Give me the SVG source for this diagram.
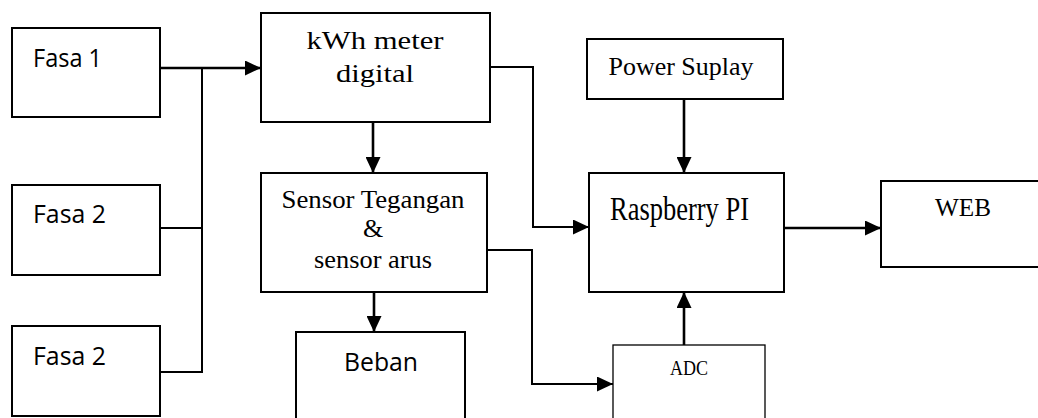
<svg xmlns="http://www.w3.org/2000/svg" width="1038" height="418" viewBox="0 0 1038 418">
<style>
.box{fill:#fff;stroke:#000;stroke-width:2}
.thin{fill:#fff;stroke:#000;stroke-width:1.3}
.conn{fill:none;stroke:#000;stroke-width:2.6}
.conn2{fill:none;stroke:#000;stroke-width:2}
.serif{font-family:"Liberation Serif","Times New Roman",serif;fill:#000}
.sans{font-family:"Open Sans","Noto Sans",sans-serif;fill:#000}
</style>
<defs>
<marker id="arr" markerUnits="userSpaceOnUse" markerWidth="16" markerHeight="15" refX="16" refY="7.5" orient="auto" viewBox="0 0 16 15">
<path d="M0,0 L16,7.5 L0,15 z" fill="#000"/>
</marker>
</defs>
<rect width="1038" height="418" fill="#fff"/>
<g id="connectors">
<line class="conn" x1="160" y1="68" x2="261" y2="68" marker-end="url(#arr)"/>
<line class="conn2" x1="202" y1="68" x2="202" y2="373"/>
<line class="conn2" x1="160" y1="228" x2="202" y2="228"/>
<line class="conn2" x1="160" y1="372" x2="202" y2="372"/>
<path class="conn2" d="M486,67 H533 V227 H589" marker-end="url(#arr)"/>
<line class="conn" x1="373" y1="122" x2="373" y2="173" marker-end="url(#arr)"/>
<line class="conn" x1="374" y1="292" x2="374" y2="332" marker-end="url(#arr)"/>
<path class="conn2" d="M487,250 H532 V384 H613" marker-end="url(#arr)"/>
<line class="conn" x1="684" y1="99" x2="684" y2="173" marker-end="url(#arr)"/>
<line class="conn" x1="684" y1="345" x2="684" y2="292" marker-end="url(#arr)"/>
<line class="conn" x1="784" y1="228" x2="881" y2="228" marker-end="url(#arr)"/>
</g>
<g id="fasa1">
<rect class="box" x="12" y="28" width="148" height="89"/>
<text class="sans" x="33" y="67" font-size="25" textLength="69" lengthAdjust="spacingAndGlyphs">Fasa 1</text>
</g>
<g id="fasa2a">
<rect class="box" x="12" y="185" width="148" height="90"/>
<text class="sans" x="33" y="223" font-size="25" textLength="73" lengthAdjust="spacingAndGlyphs">Fasa 2</text>
</g>
<g id="fasa2b">
<rect class="box" x="12" y="326" width="148" height="90"/>
<text class="sans" x="33" y="365" font-size="25" textLength="73" lengthAdjust="spacingAndGlyphs">Fasa 2</text>
</g>
<g id="kwh">
<rect class="box" x="261" y="13" width="229" height="109"/>
<text class="serif" x="375" y="49" font-size="26" text-anchor="middle" textLength="137" lengthAdjust="spacingAndGlyphs">kWh meter</text>
<text class="serif" x="375" y="82" font-size="26" text-anchor="middle" textLength="78" lengthAdjust="spacingAndGlyphs">digital</text>
</g>
<g id="sensor">
<rect class="box" x="261" y="173" width="226" height="119"/>
<text class="serif" x="373" y="208" font-size="26" text-anchor="middle" textLength="183" lengthAdjust="spacingAndGlyphs">Sensor Tegangan</text>
<text class="serif" x="373" y="237" font-size="26" text-anchor="middle">&amp;</text>
<text class="serif" x="373" y="268" font-size="26" text-anchor="middle" textLength="118" lengthAdjust="spacingAndGlyphs">sensor arus</text>
</g>
<g id="beban">
<rect class="box" x="296" y="332" width="169" height="100"/>
<text class="sans" x="381" y="371" font-size="25" text-anchor="middle" textLength="74" lengthAdjust="spacingAndGlyphs">Beban</text>
</g>
<g id="power">
<rect class="box" x="587" y="39" width="196" height="60"/>
<text class="serif" x="681" y="75" font-size="26" text-anchor="middle" textLength="145" lengthAdjust="spacingAndGlyphs">Power Suplay</text>
</g>
<g id="raspberry">
<rect class="box" x="589" y="173" width="195" height="119"/>
<text class="serif" x="679.5" y="220" font-size="33" text-anchor="middle" textLength="139" lengthAdjust="spacingAndGlyphs">Raspberry PI</text>
</g>
<g id="web">
<rect class="box" x="881" y="181" width="170" height="86"/>
<text class="serif" x="963" y="216" font-size="25" text-anchor="middle" textLength="56" lengthAdjust="spacingAndGlyphs">WEB</text>
</g>
<g id="adc">
<rect class="thin" x="613" y="345" width="152" height="90"/>
<text class="serif" x="689" y="375" font-size="22" text-anchor="middle" textLength="38" lengthAdjust="spacingAndGlyphs">ADC</text>
</g>
</svg>
